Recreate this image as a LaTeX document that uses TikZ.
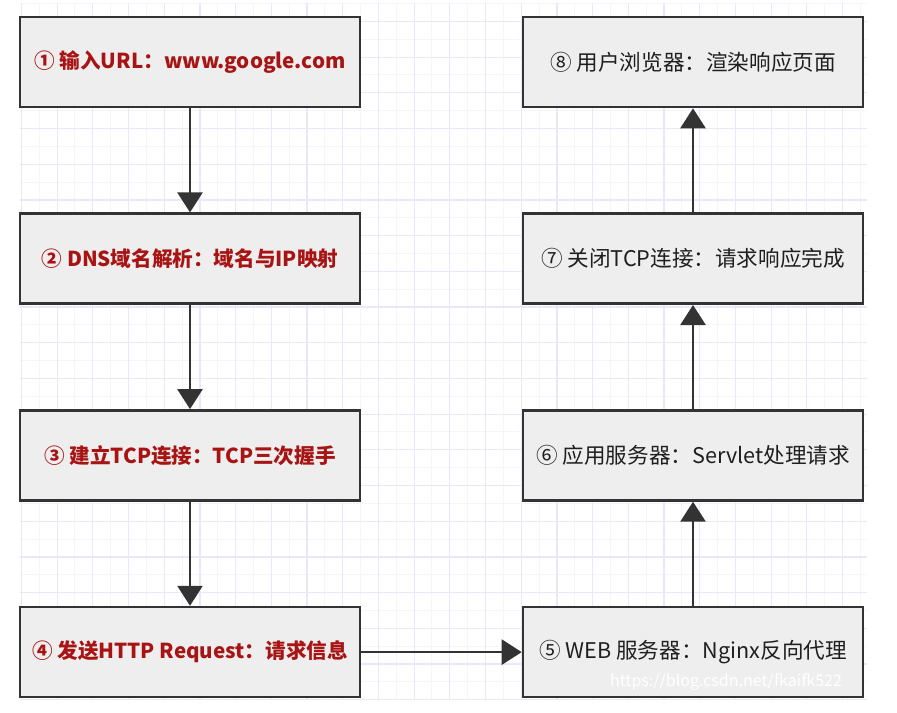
\documentclass[tikz,border=0pt]{standalone}
\usepackage{fontspec}
\setmainfont{Noto Sans CJK SC}
\usetikzlibrary{arrows.meta}

\definecolor{stepred}{HTML}{A81414}
\definecolor{boxgray}{HTML}{EEEEEE}
\definecolor{linegray}{HTML}{333333}
\definecolor{gridminor}{RGB}{244,244,252}
\definecolor{gridmajor}{RGB}{232,232,250}
\def\rowsep{196.7}

\begin{document}
\begin{tikzpicture}[x=0.5pt,y=-0.5pt]
    \tikzstyle{stage}=[rectangle,draw=linegray,fill=boxgray,line width=1.3pt,minimum width=170pt,minimum height=45pt,inner sep=0pt,font=\fontsize{10.8}{12}\selectfont]
    \tikzstyle{client stage}=[stage,text=stepred,font=\fontsize{10.3}{12}\selectfont\bfseries]
    \tikzstyle{server stage}=[stage,text=black!88]
    \tikzstyle{flow}=[-{Triangle[width=12.5pt,length=10pt]},line width=1.3pt,draw=linegray]
    \tikzstyle{grid minor}=[draw=gridminor,line width=0.5pt]
    \tikzstyle{grid major}=[draw=gridmajor,line width=0.6pt]

    \useasboundingbox (0,0) rectangle (897,712);

    % Draw the background grid
    \begin{scope}
        \clip (20,3) rectangle (867,699);
        \foreach \k in {0,...,47}
            \draw[grid minor] ({21.4+17.85*\k},3) -- ({21.4+17.85*\k},699);
        \foreach \k in {0,...,39}
            \draw[grid minor] (20,{3.55+17.85*\k}) -- (867,{3.55+17.85*\k});
        \foreach \k in {0,...,23}
            \draw[grid major] ({21.4+35.7*\k},3) -- ({21.4+35.7*\k},699);
        \foreach \k in {0,...,19}
            \draw[grid major] (20,{21.4+35.7*\k}) -- (867,{21.4+35.7*\k});
    \end{scope}

    % Draw the client side steps (left column, top to bottom)
    \foreach \name/\txt in {1/{① 输入URL：www.google.com},2/{② DNS域名解析：域名与IP映射},3/{③ 建立TCP连接：TCP三次握手},4/{④ 发送HTTP Request：请求信息}}
        \node[client stage] (L-\name) at (190,{62+\rowsep*(\name-1)}) {\txt};

    % Draw the server side steps (right column, bottom to top)
    \foreach \name/\txt in {5/{⑤ WEB 服务器：Nginx反向代理},6/{⑥ 应用服务器：Servlet处理请求},7/{⑦ 关闭TCP连接：请求响应完成},8/{⑧ 用户浏览器：渲染响应页面}}
        \node[server stage] (R-\name) at (693,{62+\rowsep*(8-\name)}) {\txt};

    % Connect the steps in order
    \foreach \source/\dest in {1/2,2/3,3/4}
        \path (L-\source) edge[flow] (L-\dest);
    \path (L-4) edge[flow] (R-5);
    \foreach \source/\dest in {5/6,6/7,7/8}
        \path (R-\source) edge[flow] (R-\dest);

    % Watermark
    \node[font=\fontsize{8}{9}\selectfont,text=white] (mark) at (726,682) {https://blog.csdn.net/fkaifk522};
\end{tikzpicture}
\end{document}
